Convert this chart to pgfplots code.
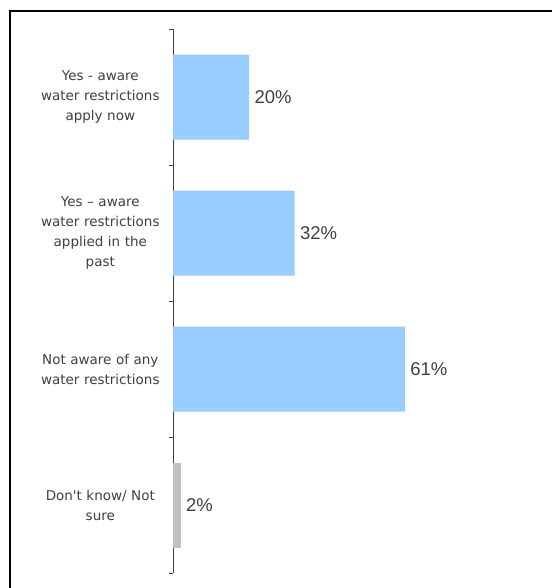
\documentclass[border=0pt]{standalone}
\usepackage{pgfplots}
\pgfplotsset{compat=1.18}
\usepackage{fontspec}
\setmainfont{Liberation Sans}
\newfontfamily\catfont{DejaVu Sans}
\definecolor{barblue}{HTML}{99CCFF}
\definecolor{bargray}{HTML}{C0C0C0}
\definecolor{txtgray}{HTML}{404040}
\begin{document}
\begin{tikzpicture}[x=1pt,y=1pt]
\useasboundingbox (0,0) rectangle (552,588);
\fill[white] (0,0) rectangle (552,588);
\draw[black, line width=2pt] (10,0) -- (10,577) -- (552,577);
\begin{axis}[
  at={(173pt,15pt)}, anchor=south west,
  width=380pt, height=544pt, scale only axis,
  /pgf/number format/assume math mode=true,
  xbar, bar shift=0pt, bar width=0.625,
  xmin=0, xmax=100, ymin=-0.5, ymax=3.5,
  y dir=reverse,
  axis x line=none,
  axis y line*=left,
  y axis line style={txtgray, line width=0.9pt},
  ytick={0,1,2,3},
  yticklabels={{Yes - aware\\water restrictions\\apply now},
               {Yes – aware\\water restrictions\\applied in the\\past},
               {Not aware of any\\water restrictions},
               {Don't know/ Not\\sure}},
  yticklabel style={font=\catfont\fontsize{13.5}{20}\selectfont, text=txtgray, text width=135pt, align=center, inner sep=0pt, xshift=-5pt},
  major tick length=0pt,
  extra y ticks={-0.5,0.5,1.5,2.5,3.5},
  extra y tick labels={},
  extra y tick style={major tick length=4pt, tick align=outside, tick style={txtgray, line width=0.9pt}},
  nodes near coords={\pgfmathprintnumber{\pgfplotspointmeta}\%},
  nodes near coords style={anchor=west, font=\fontsize{18.5}{20}\selectfont, text=txtgray, xshift=2pt},
  clip=false,
]
\addplot[fill=barblue, draw=none] coordinates {(20,0) (32,1) (61,2)};
\addplot[fill=bargray, draw=none] coordinates {(2,3)};
\end{axis}
\end{tikzpicture}
\end{document}
